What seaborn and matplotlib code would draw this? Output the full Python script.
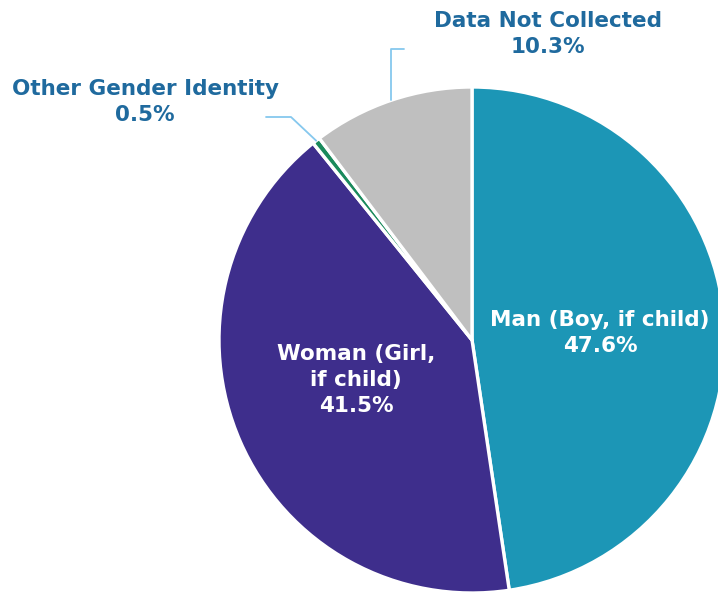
import matplotlib
matplotlib.use("Agg")

import matplotlib.pyplot as plt
import numpy as np
import seaborn as sns

categories = ["Man (Boy, if child)", "Woman (Girl,\nif child)", "Other Gender Identity", "Data Not Collected"]
shares = [47.6, 41.5, 0.5, 10.3]
pct_labels = ["47.6%", "41.5%", "0.5%", "10.3%"]
colors = ["#1C96B6", "#3E2E8C", "#1A8A5C", "#BFBFBF"]

sns.set_theme(style="white")
plt.rcParams['font.family'] = ['DejaVu Sans']

text_blue = "#1F6A9E"
leader = "#86C8EE"
fs = 15.5
ls = 1.4

fig = plt.figure(figsize=(7.18, 5.95), dpi=100)
ax = fig.add_axes([0, 0, 1, 1])

cx, cy, r = 472, 255, 253
wedges, _ = ax.pie(shares, colors=colors, startangle=90, counterclock=False,
                   center=(cx, cy), radius=r,
                   wedgeprops=dict(edgecolor="white", linewidth=2.4))
ax.set_xlim(0, 718)
ax.set_ylim(0, 595)
ax.set_aspect("equal")
ax.axis("off")

def mid_point(w):
    a = np.deg2rad((w.theta1 + w.theta2) / 2)
    return cx + r * np.cos(a), cy + r * np.sin(a)

# inside labels
ax.text(600, 595 - 333, categories[0] + "\n" + pct_labels[0], color="white",
        fontsize=fs, fontweight="bold", ha="center", va="center", linespacing=ls)
ax.text(356, 595 - 380, categories[1] + "\n" + pct_labels[1], color="white",
        fontsize=fs, fontweight="bold", ha="center", va="center", linespacing=ls)

# outside labels with leader lines
x0, y0 = mid_point(wedges[3])
ax.plot([x0, x0, x0 + 13], [y0, 595 - 49, 595 - 49], color=leader, lw=1.3)
ax.text(548, 595 - 34, categories[3] + "\n" + pct_labels[3], color=text_blue,
        fontsize=fs, fontweight="bold", ha="center", va="center", linespacing=ls)

x1, y1 = mid_point(wedges[2])
ax.plot([x1, 291, 266], [y1, 595 - 117, 595 - 117], color=leader, lw=1.3)
ax.text(145, 595 - 102, categories[2] + "\n" + pct_labels[2], color=text_blue,
        fontsize=fs, fontweight="bold", ha="center", va="center", linespacing=ls)

plt.savefig("out.png", dpi=100)
